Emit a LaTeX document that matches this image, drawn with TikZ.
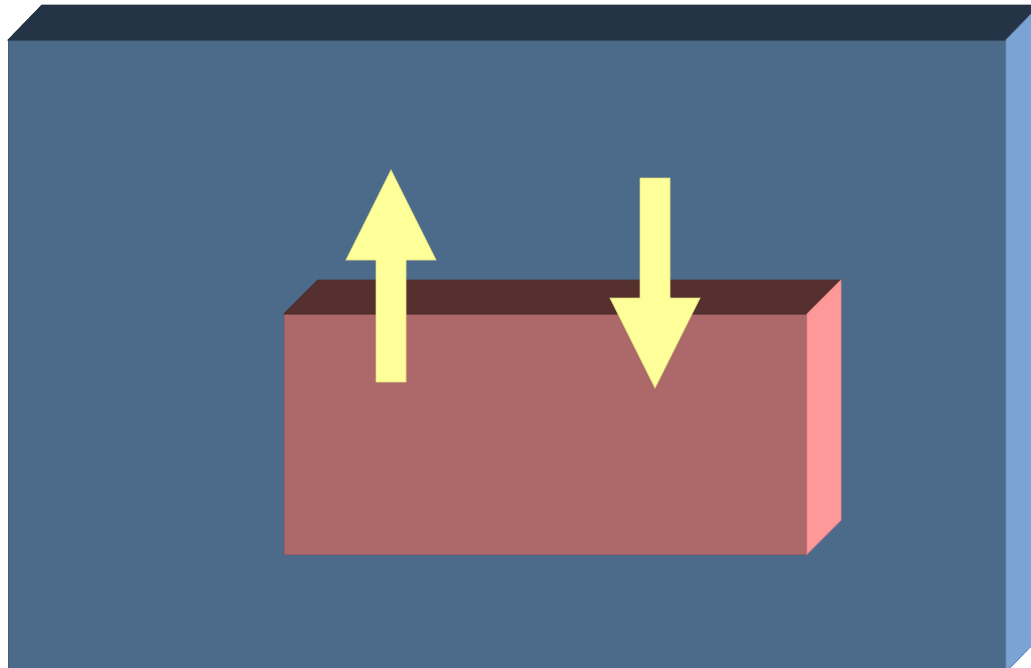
\documentclass[tikz,border=0pt]{standalone}
\usepackage{tikz}
\definecolor{slabfront}{HTML}{4C6A8A}
\definecolor{slabtop}{HTML}{243446}
\definecolor{slabside}{HTML}{7BA3D4}
\definecolor{blockfront}{HTML}{AD686A}
\definecolor{blocktop}{HTML}{55302F}
\definecolor{blockside}{HTML}{FF9999}
\definecolor{arrowfill}{HTML}{FFFF99}
\begin{document}
\begin{tikzpicture}[x=0.02cm,y=-0.02cm,face/.style={fill=#1,draw=#1!88!black,line width=0.5pt,line join=miter},flow/.style={fill=arrowfill,draw=arrowfill!85!black,line width=0.4pt}]
\clip (0,0) rectangle (1031,667);
% large slab
\fill[white] (0,0) rectangle (1031,667);
\draw[face=slabfront] (8,40) rectangle (1006,672);
\draw[face=slabtop] (8,40)--(42,5)--(1040,5)--(1006,40)--cycle;
\draw[face=slabside] (1006,40)--(1040,5)--(1040,637)--(1006,672)--cycle;
% inner block
\draw[face=blockfront] (284,314) rectangle (807,554);
\draw[face=blocktop] (284,314)--(318,280)--(841,280)--(807,314)--cycle;
\draw[face=blockside] (807,314)--(841,280)--(841,520)--(807,554)--cycle;
% arrows
\draw[flow] (376,382)--(376,260)--(346,260)--(391,170)--(436,260)--(406,260)--(406,382)--cycle;
\draw[flow] (640,178)--(670,178)--(670,298)--(700,298)--(655,388)--(610,298)--(640,298)--cycle;
\end{tikzpicture}
\end{document}
